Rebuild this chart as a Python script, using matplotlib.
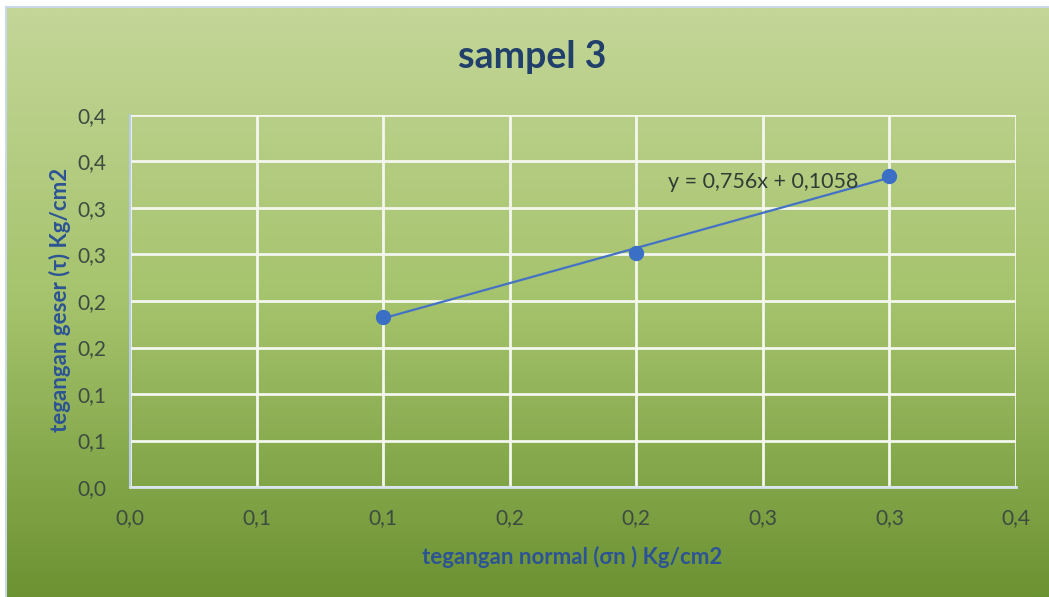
import math
import numpy as np
import matplotlib

matplotlib.use("Agg")

import matplotlib.pyplot as plt
from matplotlib.colors import LinearSegmentedColormap
from matplotlib.ticker import FuncFormatter, MultipleLocator

# data
sigma_n = [0.1, 0.2, 0.3]
tau = [0.183, 0.252, 0.334]
slope = 0.756
intercept = 0.1058
equation = "y = 0,756x + 0,1058"

title = "sampel 3"
x_label = "tegangan normal (σn ) Kg/cm2"
y_label = "tegangan geser (τ) Kg/cm2"

plt.rcParams["font.family"] = ["Lato", "DejaVu Sans"]

W, H = 1049, 597
fig = plt.figure(figsize=(W / 100, H / 100), dpi=100, facecolor="white")

# gradient background of the chart area
bg = fig.add_axes([6 / W, 0, 1 - 6 / W, 1 - 8 / H])
bg.set_axis_off()
grad = LinearSegmentedColormap.from_list("g", ["#6c9232", "#a5c36c", "#c4d698"])
bg.imshow(np.linspace(0, 1, 256).reshape(-1, 1), aspect="auto", cmap=grad,
          origin="lower", extent=[0, 1, 0, 1])
fig.add_artist(plt.Line2D([6 / W, 6 / W], [0, 1 - 7 / H], color="#c9d9ea", lw=1.5))
fig.add_artist(plt.Line2D([6 / W, 1], [1 - 7 / H, 1 - 7 / H], color="#c9d9ea", lw=1.5))

ax = fig.add_axes([130 / W, 1 - 487 / H, (1016 - 130) / W, (487 - 115) / H])
ax.patch.set_alpha(0)
ax.set_xlim(0, 0.35)
ax.set_ylim(0, 0.4)
ax.xaxis.set_major_locator(MultipleLocator(0.05))
ax.yaxis.set_major_locator(MultipleLocator(0.05))


def fmt(v, pos):
    r = math.floor(v * 10 + 0.5 + 1e-9) / 10
    return f"{r:.1f}".replace(".", ",")


ax.xaxis.set_major_formatter(FuncFormatter(fmt))
ax.yaxis.set_major_formatter(FuncFormatter(fmt))
ax.grid(True, color="#f4f7ee", lw=2)
ax.set_axisbelow(True)
for s in ["top", "right"]:
    ax.spines[s].set_visible(False)
ax.spines["left"].set_color("#b7cce6")
ax.spines["bottom"].set_color("#d9e3ee")
ax.spines["left"].set_linewidth(1.5)
ax.spines["bottom"].set_linewidth(2)
ax.tick_params(length=0, labelsize=15, labelcolor="#3d4b40", pad=15)
ax.tick_params(axis="y", pad=17)

xs = np.array([min(sigma_n), max(sigma_n)])
ax.plot(xs, slope * xs + intercept, color="#4472c4", lw=1.6, zorder=3)
ax.plot(sigma_n, tau, "o", color="#3b6fc6", ms=10, zorder=4)
ax.text(0.2125, 0.328, equation, fontsize=15.5, color="#2f3d35", va="center", ha="left")

fig.text(532 / W, 1 - 57 / H, title, fontsize=27, fontweight="bold", color="#213f6b",
         ha="center", va="center")
fig.text(572 / W, 1 - 557 / H, x_label, fontsize=16, fontweight="bold", color="#2c5494",
         ha="center", va="center")
fig.text(60 / W, 1 - 300 / H, y_label, fontsize=16, fontweight="bold", color="#2c5494",
         ha="center", va="center", rotation=90)

fig.savefig("out.png", dpi=100)
